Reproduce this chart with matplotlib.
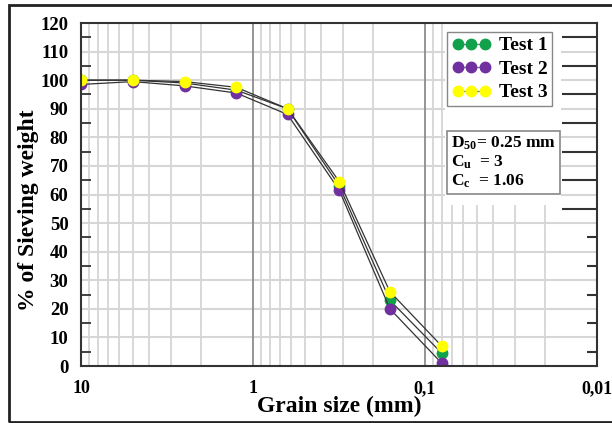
import numpy as np
import matplotlib
matplotlib.use("Agg")
import matplotlib.pyplot as plt
from matplotlib.patches import Rectangle
from matplotlib.transforms import blended_transform_factory

plt.rcParams['font.family'] = ['Liberation Serif', 'DejaVu Serif']
plt.rcParams['font.weight'] = 'bold'
plt.rcParams['axes.labelweight'] = 'bold'
plt.rcParams['mathtext.fontset'] = 'custom'
plt.rcParams['mathtext.rm'] = 'Liberation Serif:bold'
plt.rcParams['mathtext.it'] = 'Liberation Serif:bold'
plt.rcParams['mathtext.bf'] = 'Liberation Serif:bold'

# sieve sizes (mm) and passing percentages
sizes = [10, 5, 2.5, 1.25, 0.63, 0.315, 0.16, 0.08]
test1 = [100, 100, 99, 96.5, 90, 63, 23, 4.5]
test2 = [98.5, 99.5, 98, 95.5, 88, 61.5, 20, 1]
test3 = [100, 100, 99.5, 97.5, 90, 64.5, 26, 7]
labels = ['Test 1', 'Test 2', 'Test 3']
colors = ['#12a14b', '#7030a0', '#ffff00']
xticks = [10, 1, 0.1, 0.01]
xticklabels = ['10', '1', '0,1', '0,01']

fig = plt.figure(figsize=(6.12, 4.23), dpi=100)
ax = fig.add_axes([81/612, 1-366/423, 516/612, 343/423])

# outer frame of the picture
fig.patches.append(Rectangle((9/612, 1/423), 1.0, 417/423, transform=fig.transFigure,
                             fill=False, edgecolor='#222222', lw=2.0, clip_on=False))

ax.set_xscale('log')
ax.set_xlim(10, 0.01)
ax.set_ylim(0, 120)

# grid
for dec in [1, 0.1, 0.01]:
    for m in range(2, 10):
        ax.axvline(dec * m, color='#d6d6d6', lw=1.3, zorder=0.5)
for v in [1, 0.1]:
    ax.axvline(v, color='#8c8c8c', lw=1.3, zorder=0.6)
for h in range(10, 120, 10):
    ax.axhline(h, color='#d6d6d6', lw=1.5, zorder=0.5)

# blank area behind legend and text box
bt = blended_transform_factory(ax.transAxes, ax.transData)
ax.add_patch(Rectangle((364/516, 56.5), 116/516, 64, transform=bt,
                       facecolor='white', edgecolor='none', zorder=0.8))

# right side ticks
ax.hlines(np.arange(55, 120, 10), 1 - 35/516, 1, transform=bt, color='#333333', lw=1.5, zorder=1)
ax.hlines(np.arange(5, 50, 10), 1 - 10/516, 1, transform=bt, color='#333333', lw=1.5, zorder=1)

order = [0, 2, 1]
data = [test1, test2, test3]
handles = [None] * 3
for i in order:
    h, = ax.plot(sizes, data[i], color='#333333', lw=0.9, marker='o', ms=7.5,
                 mfc=colors[i], mec=colors[i], zorder=2 + i * 0.1, label=labels[i])
    handles[i] = h

ax.set_xticks(xticks)
ax.set_xticklabels(xticklabels)
ax.xaxis.set_minor_locator(plt.NullLocator())
ax.tick_params(axis='x', length=0, pad=10, labelsize=13)
ax.set_yticks(np.arange(0, 121, 10))
ax.set_yticks(np.arange(5, 120, 10), minor=True)
ax.tick_params(axis='y', which='major', length=0, pad=9, labelsize=13.5)
ax.tick_params(axis='y', which='minor', direction='in', length=7.5, width=1.3, color='#333333')

for s in ax.spines.values():
    s.set_color('#333333')
    s.set_linewidth(1.5)

ax.set_xlabel('Grain size (mm)', fontsize=17, labelpad=-1)
ax.set_ylabel('% of Sieving weight', fontsize=17)
ax.yaxis.set_label_coords(-0.081, 0.455)

leg = ax.legend(handles=handles, loc='upper left', bbox_to_anchor=(366/516, 1 - 9/343),
                borderaxespad=0, fontsize=14, numpoints=3, handlelength=2.0,
                handletextpad=0.4, borderpad=0.25, labelspacing=0.3, fancybox=False,
                framealpha=1, edgecolor='#888888')
leg.set_zorder(5)
for lh in leg.legend_handles:
    lh.set_color('#777777')

ax.text(370/516, 1 - 112/343, 'D$_{50}$= 0.25 mm\nC$_{u}$  = 3\nC$_{c}$  = 1.06',
        transform=ax.transAxes, fontsize=12.5, va='top', ha='left', linespacing=1.1,
        bbox=dict(boxstyle='square,pad=0.25', facecolor='white', edgecolor='#888888', lw=1.2),
        zorder=5)

fig.savefig('out.png', dpi=100)
